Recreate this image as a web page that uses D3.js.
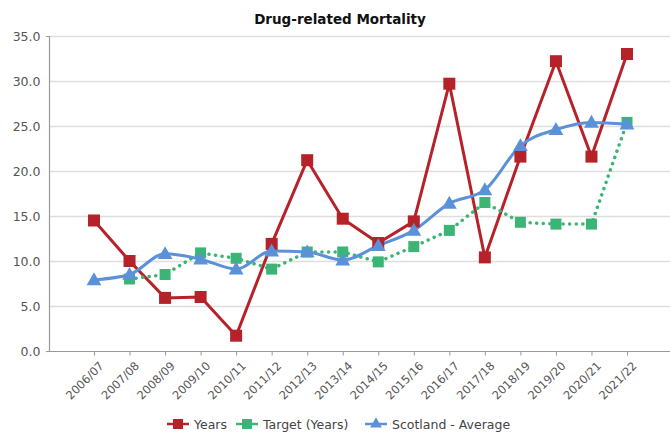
<!DOCTYPE html>
<html><head><meta charset="utf-8">
<script src="https://cdn.jsdelivr.net/npm/d3@7"></script>
<style>
html,body{margin:0;padding:0;background:#fff;}
svg{display:block;}
</style></head>
<body>
<svg id="c" width="670" height="432"></svg>
<script>
const categories = ["2006/07","2007/08","2008/09","2009/10","2010/11","2011/12","2012/13","2013/14","2014/15","2015/16","2016/17","2017/18","2018/19","2019/20","2020/21","2021/22"];
const yearsValues = [14.5,10.0,5.9,6.0,1.7,11.9,21.2,14.7,12.0,14.4,29.7,10.4,21.6,32.2,21.6,33.0];
const targetValues = [null,8.0,8.5,10.9,10.3,9.1,11.0,11.0,9.9,11.6,13.4,16.5,14.3,14.1,14.1,25.4];
const scotlandValues = [7.9,8.5,10.8,10.2,9.1,11.1,11.0,10.1,11.7,13.4,16.4,17.9,22.8,24.6,25.4,25.2];
const yTicks = [0,5,10,15,20,25,30,35];
const seriesNames = ["Years","Target (Years)","Scotland - Average"];
const colors = ["#b5222a","#3bb575","#5a91d9"];

const svg = d3.select("#c");
const mLeft = 49, mRight = 670, mTop = 36, mBottom = 351;
const x = d3.scalePoint().domain(categories).range([94, 627]);
const y = d3.scaleLinear().domain([0,35]).range([mBottom, mTop]);

// title
svg.append("text").attr("x",340).attr("y",24).attr("text-anchor","middle")
  .attr("font-family","'DejaVu Sans',sans-serif").attr("font-weight","bold")
  .attr("font-size",13.5).attr("fill","#111").text("Drug-related Mortality");

// grid
svg.append("g").selectAll("line").data(yTicks.filter(d=>d>0)).join("line")
  .attr("x1",mLeft).attr("x2",mRight).attr("y1",d=>Math.round(y(d))+0.5).attr("y2",d=>Math.round(y(d))+0.5)
  .attr("stroke","#dedede").attr("stroke-width",1.5);

// y axis
const ya = svg.append("g").attr("transform",`translate(${mLeft+0.5},0)`)
  .call(d3.axisLeft(y).tickValues(yTicks).tickFormat(d3.format(".1f")).tickSize(0).tickPadding(9));
ya.select(".domain").remove();
ya.selectAll("text").attr("font-family","'DejaVu Sans',sans-serif").attr("font-size",12.5).attr("fill","#555");
svg.append("line").attr("x1",mLeft+0.5).attr("x2",mLeft+0.5).attr("y1",mTop).attr("y2",mBottom).attr("stroke","#999").attr("stroke-width",1.2);
[0,35].forEach(v=>svg.append("line").attr("x1",mLeft-3).attr("x2",mLeft).attr("y1",Math.round(y(v))+0.5).attr("y2",Math.round(y(v))+0.5).attr("stroke","#999"));

// x axis
const xa = svg.append("g").attr("transform",`translate(0,${mBottom+0.5})`)
  .call(d3.axisBottom(x).tickSize(4).tickSizeOuter(0));
xa.select(".domain").remove();
svg.append("line").attr("x1",mLeft).attr("x2",mRight).attr("y1",mBottom+0.5).attr("y2",mBottom+0.5).attr("stroke","#999").attr("stroke-width",1.2);
xa.selectAll(".tick line").attr("stroke","#999");
xa.selectAll("text").attr("font-family","'DejaVu Sans',sans-serif").attr("font-size",11.5).attr("fill","#555")
  .attr("text-anchor","end").attr("x",0).attr("y",0).attr("dy","0").attr("transform","translate(10,15) rotate(-45)");

// series
function drawLine(vals, color, dashed, curve){
  const line = d3.line().defined(d=>d!=null).x((d,i)=>x(categories[i])).y(d=>y(d)).curve(curve||d3.curveLinear);
  const p = svg.append("path").datum(vals).attr("d",line).attr("fill","none").attr("stroke",color)
    .attr("stroke-width",3).attr("stroke-linejoin","round");
  if(dashed) p.attr("stroke-dasharray","0.1 6.5").attr("stroke-linecap","round").attr("stroke-width",3.5);
}
function squares(vals,color,s){
  svg.append("g").selectAll("rect").data(vals.map((v,i)=>[v,i]).filter(d=>d[0]!=null)).join("rect")
    .attr("x",d=>x(categories[d[1]])-s/2).attr("y",d=>y(d[0])-s/2).attr("width",s).attr("height",s).attr("fill",color);
}
function triangles(vals,color){
  const sym = d3.symbol().type(d3.symbolTriangle).size(95);
  svg.append("g").selectAll("path").data(vals.map((v,i)=>[v,i])).join("path")
    .attr("d",sym).attr("transform",d=>`translate(${x(categories[d[1]])},${y(d[0])+1})`).attr("fill",color);
}
drawLine(yearsValues, colors[0]);
drawLine(targetValues, colors[1], true);
squares(targetValues, colors[1], 11);
drawLine(scotlandValues, colors[2], false, d3.curveMonotoneX);
squares(yearsValues, colors[0], 12);
triangles(scotlandValues, colors[2]);

// legend
const lg = svg.append("g").attr("font-family","'DejaVu Sans',sans-serif").attr("font-size",12.5).attr("fill","#444");
const lx = [167, 236, 365];
seriesNames.forEach((n,i)=>{
  const g = lg.append("g").attr("transform",`translate(${lx[i]},424)`);
  g.append("line").attr("x1",0).attr("x2",22).attr("y1",0).attr("y2",0).attr("stroke",colors[i]).attr("stroke-width",2.5);
  if(i<2) g.append("rect").attr("x",6).attr("y",-5).attr("width",10).attr("height",10).attr("fill",colors[i]);
  else g.append("path").attr("d",d3.symbol().type(d3.symbolTriangle).size(60)).attr("transform","translate(11,0)").attr("fill",colors[i]);
  g.append("text").attr("x",27).attr("y",4.5).attr("fill","#444").text(n);
});
</script>
</body></html>
